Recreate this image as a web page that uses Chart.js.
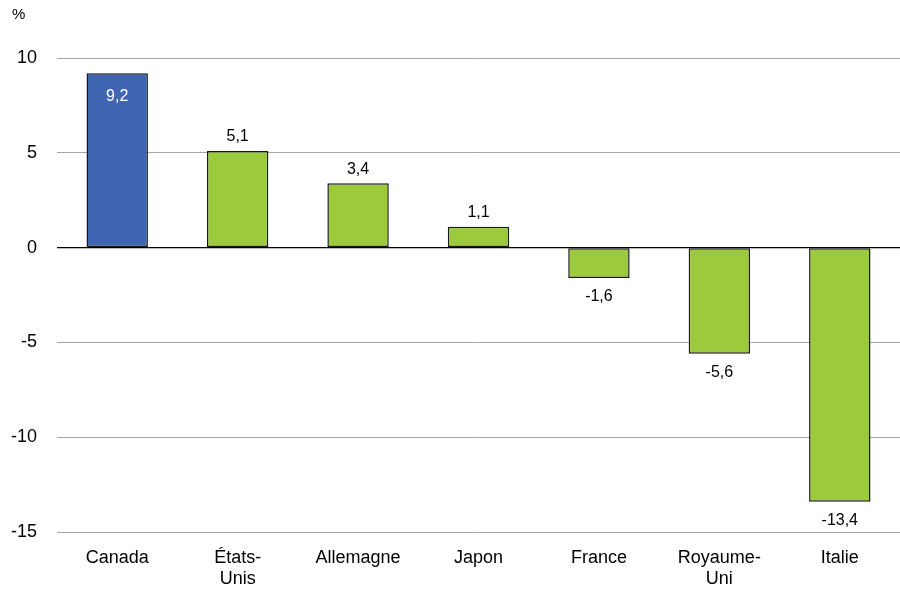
<!DOCTYPE html>
<html>
<head>
<meta charset="utf-8">
<script src="https://cdn.jsdelivr.net/npm/chart.js@4"></script>
<style>
  html, body { margin: 0; padding: 0; background: #fff; }
  #wrap { width: 900px; height: 601px; position: relative; }
</style>
</head>
<body>
<div id="wrap"><canvas id="chart"></canvas></div>
<script>
const categories = ['Canada', ['États-', 'Unis'], 'Allemagne', 'Japon', 'France', ['Royaume-', 'Uni'], 'Italie'];
const values = [9.2, 5.1, 3.4, 1.1, -1.6, -5.6, -13.4];
const barColors = ['#4066b3', '#9bcb3c', '#9bcb3c', '#9bcb3c', '#9bcb3c', '#9bcb3c', '#9bcb3c'];
const yTicks = [-15, -10, -5, 0, 5, 10];

const fontFamily = '"Liberation Sans", Arial, sans-serif';

// value labels + the % unit
const labelsPlugin = {
    id: 'valueLabels',
    afterDatasetsDraw(chart) {
        const ctx = chart.ctx;
        const meta = chart.getDatasetMeta(0);
        ctx.save();
        ctx.font = '16px ' + fontFamily;
        ctx.textAlign = 'center';
        meta.data.forEach((bar, i) => {
            const v = values[i];
            const txt = v.toFixed(1).replace('.', ',');
            if (i === 0) {
                ctx.fillStyle = '#ffffff';
                ctx.textBaseline = 'top';
                ctx.fillText(txt, bar.x, bar.y + 15);
            } else if (v >= 0) {
                ctx.fillStyle = '#000000';
                ctx.textBaseline = 'bottom';
                ctx.fillText(txt, bar.x, bar.y - 6);
            } else {
                ctx.fillStyle = '#000000';
                ctx.textBaseline = 'top';
                ctx.fillText(txt, bar.x, bar.y + 11);
            }
        });
        ctx.font = '15px ' + fontFamily;
        ctx.textAlign = 'left';
        ctx.textBaseline = 'top';
        ctx.fillStyle = '#000';
        ctx.fillText('%', 12, 7);
        ctx.restore();
    }
};

new Chart(document.getElementById('chart'), {
    type: 'bar',
    data: {
        labels: categories,
        datasets: [{
            data: values,
            backgroundColor: barColors,
            borderColor: '#1a1a1a',
            borderWidth: 1.5,
            borderSkipped: false,
            barPercentage: 0.51,
            categoryPercentage: 1.0
        }]
    },
    options: {
        responsive: true,
        maintainAspectRatio: false,
        animation: false,
        layout: { padding: { top: 58, right: 0, left: 0, bottom: 0 } },
        plugins: {
            legend: { display: false },
            tooltip: { enabled: false }
        },
        scales: {
            x: {
                grid: { display: false, drawTicks: false },
                border: { display: false },
                ticks: {
                    color: '#000',
                    font: { family: fontFamily, size: 18 },
                    padding: 15,
                    maxRotation: 0,
                    autoSkip: false
                },
                afterFit(scale) { scale.height = 69; }
            },
            y: {
                min: -15,
                max: 10,
                afterBuildTicks(scale) { scale.ticks = yTicks.map(v => ({ value: v })); },
                grid: {
                    drawTicks: false,
                    color: ctx => ctx.tick && ctx.tick.value === 0 ? '#000000' : '#a6a6a6',
                    lineWidth: ctx => ctx.tick && ctx.tick.value === 0 ? 1.3 : 1
                },
                border: { display: false },
                ticks: {
                    color: '#000',
                    font: { family: fontFamily, size: 18 },
                    padding: 20
                },
                afterFit(scale) { scale.width = 57; }
            }
        }
    },
    plugins: [labelsPlugin]
});
</script>
</body>
</html>
